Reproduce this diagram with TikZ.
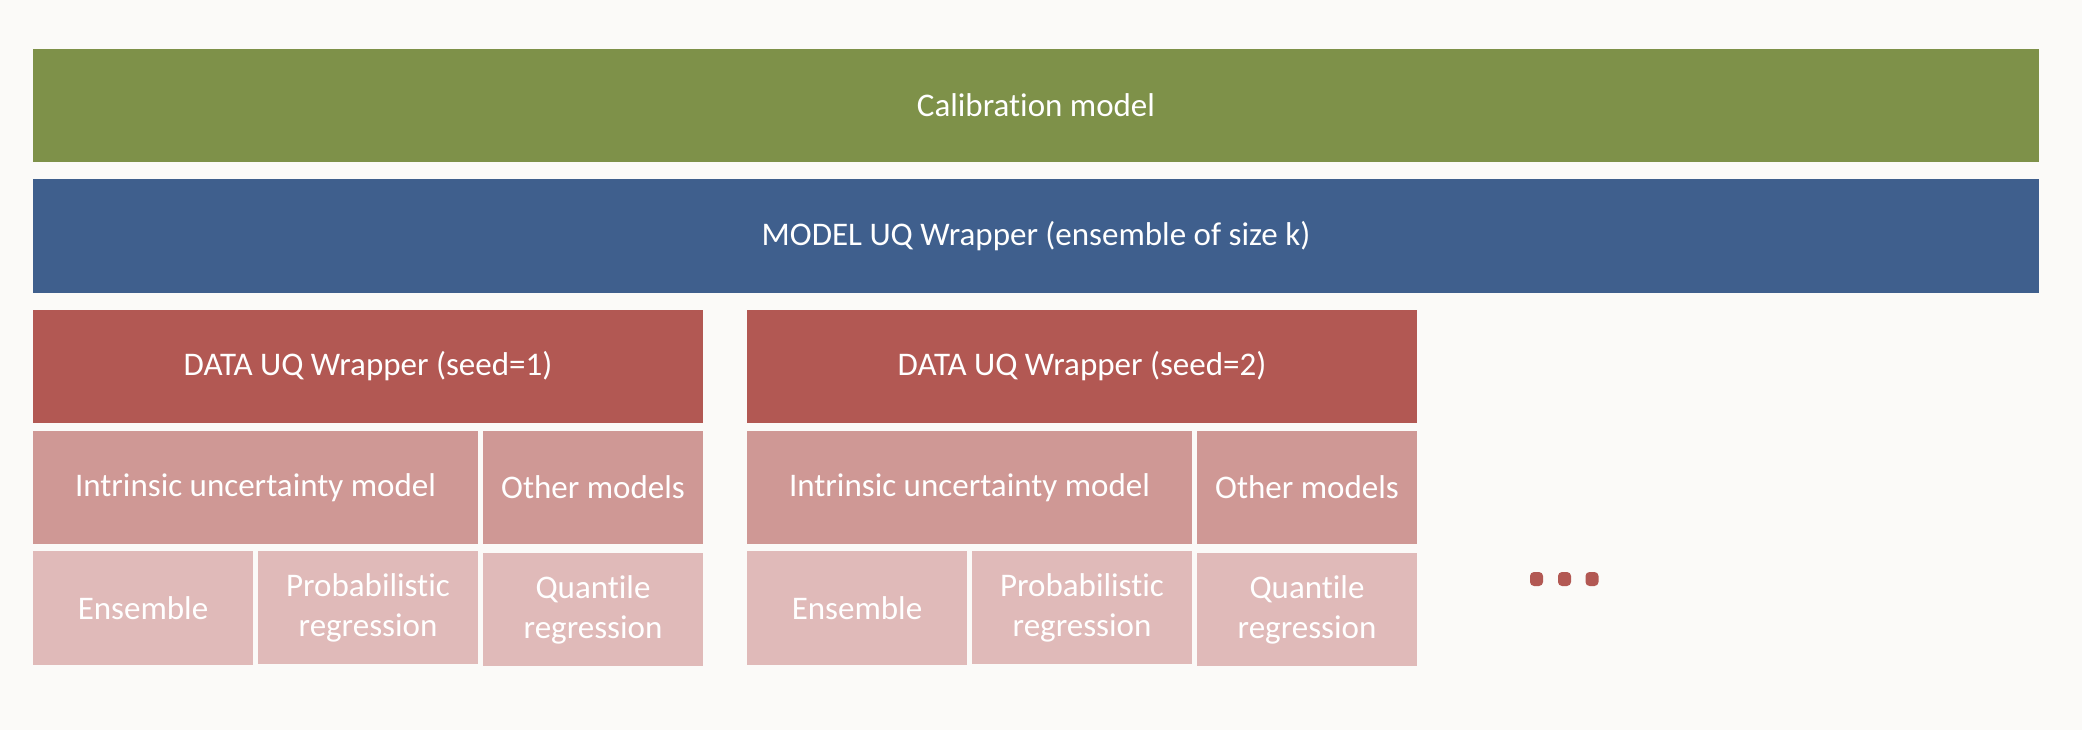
\documentclass[tikz,border=0pt]{standalone}
\usepackage{fontspec}
\setmainfont{Carlito}[Ligatures=NoCommon]
\definecolor{bgc}{HTML}{FBFAF8}
\definecolor{greenc}{HTML}{7E9149}
\definecolor{bluec}{HTML}{3F5F8D}
\definecolor{redc}{HTML}{B25853}
\definecolor{midc}{HTML}{CF9895}
\definecolor{lightc}{HTML}{E0BAB9}
\begin{document}
\begin{tikzpicture}[x=1pt,y=-1pt,
  blk/.style={inner sep=0pt, outer sep=0pt, text=white, align=center,
    font=\fontsize{33}{40}\selectfont},
  calib/.style={blk, fill=greenc, minimum width=2006pt, minimum height=113pt},
  modelw/.style={blk, fill=bluec, minimum width=2006pt, minimum height=114pt},
  dataw/.style={blk, fill=redc, minimum width=670pt, minimum height=113pt},
  intr/.style={blk, fill=midc, minimum width=445pt, minimum height=113pt},
  other/.style={blk, fill=midc, minimum width=220pt, minimum height=113pt},
  leaf/.style={blk, fill=lightc, minimum width=220pt, minimum height=113pt},
  dotc/.style={fill=redc, rounded corners=4pt, inner sep=0pt, outer sep=0pt, minimum width=13pt, minimum height=14pt}
]
\fill[bgc] (0,0) rectangle (2082,730);
\useasboundingbox (0,0) rectangle (2082,730);

\node[calib] (cal) at (1036,105.5) {Calibration model};
\node[modelw] (muq) at (1036,236) {MODEL UQ Wrapper (ensemble of size k)};

% group 1
\node[dataw] (d1) at (368,366.5) {DATA UQ Wrapper (seed=1)};
\node[intr] (i1) at (255.5,487.5) {Intrinsic uncertainty model};
\node[other] (o1) at (593,487.5) {Other models};
\node[leaf, minimum height=114pt] (e1) at (143,608) {Ensemble};
\node[leaf] (p1) at (368,607.5) {Probabilistic\\regression};
\node[leaf] (q1) at (593,609.5) {Quantile\\regression};

% group 2
\node[dataw] (d2) at (1082,366.5) {DATA UQ Wrapper (seed=2)};
\node[intr] (i2) at (969.5,487.5) {Intrinsic uncertainty model};
\node[other] (o2) at (1307,487.5) {Other models};
\node[leaf, minimum height=114pt] (e2) at (857,608) {Ensemble};
\node[leaf] (p2) at (1082,607.5) {Probabilistic\\regression};
\node[leaf] (q2) at (1307,609.5) {Quantile\\regression};

% ellipsis dots
\node[dotc] (dot1) at (1536.5,579) {};
\node[dotc] (dot2) at (1564.5,579) {};
\node[dotc] (dot3) at (1592,579) {};
\end{tikzpicture}
\end{document}
